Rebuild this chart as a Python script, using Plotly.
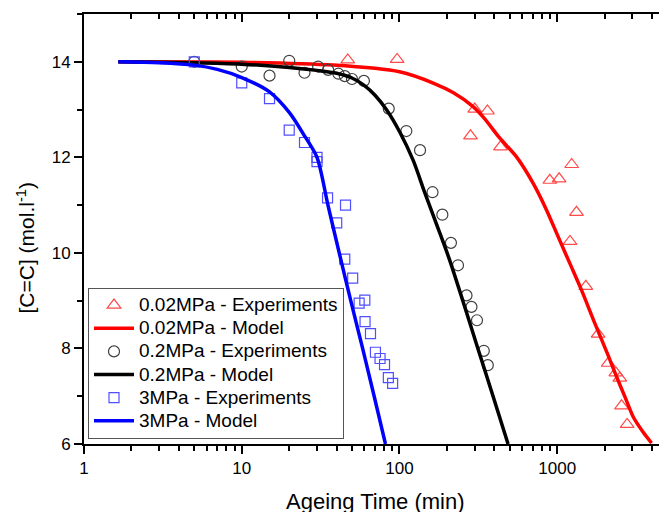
import plotly.graph_objects as go

# ---------------- data ----------------
# 0.02 MPa experiments (triangles)
t_002_exp = [47, 96.6, 282, 300, 361, 437, 898, 1028, 1205, 1235, 1325, 1518, 1816, 2103, 2353, 2494, 2557, 2775]
c_002_exp = [14.04, 14.05, 12.45, 13.01, 12.97, 12.22, 11.52, 11.55, 10.24, 11.85, 10.85, 9.3, 8.30, 7.69, 7.49, 7.38, 6.80, 6.41]
# 0.02 MPa model
t_002_mod = [1.65, 10, 38, 100, 165, 220, 293, 344, 433, 552, 703, 855, 1013, 1202, 1426, 1730, 2100, 2377, 2700, 3030, 3500, 3963]
c_002_mod = [14.0, 13.99, 13.93, 13.79, 13.55, 13.35, 13.06, 12.82, 12.4, 12.01, 11.46, 10.9, 10.34, 9.78, 9.22, 8.53, 7.86, 7.41, 6.97, 6.57, 6.25, 6.02]

# 0.2 MPa experiments (circles)
t_02_exp = [5, 10, 15, 20, 25, 30.5, 35.3, 41, 45, 50, 59.5, 85.5, 110.5, 135, 162, 187, 212, 235, 266, 286, 310, 342.5, 363]
c_02_exp = [14.0, 13.9, 13.71, 14.02, 13.77, 13.9, 13.83, 13.75, 13.7, 13.64, 13.6, 13.02, 12.55, 12.15, 11.27, 10.8, 10.21, 9.74, 9.11, 8.87, 8.59, 7.95, 7.65]
# 0.2 MPa model
t_02_mod = [1.65, 5, 10, 20, 30, 40, 50, 60, 70, 83, 100, 122, 145, 174, 208, 252, 314, 392, 488]
c_02_mod = [14.0, 13.98, 13.95, 13.88, 13.82, 13.76, 13.66, 13.5, 13.3, 12.99, 12.54, 11.94, 11.25, 10.55, 9.85, 9.0, 8.0, 7.0, 6.0]

# 3 MPa experiments (squares)
t_3_exp = [5, 10, 15, 20, 25, 30, 30, 35, 40, 45.5, 45, 50.5, 55.5, 60.3, 60.5, 65.5, 70.4, 75.3, 80.4, 85, 90.5]
c_3_exp = [14.0, 13.56, 13.23, 12.57, 12.31, 12.0, 11.91, 11.15, 10.63, 11.0, 9.87, 9.47, 8.95, 9.01, 8.56, 8.31, 7.92, 7.79, 7.66, 7.39, 7.27]
# 3 MPa model
t_3_mod = [1.65, 3, 5, 7, 10, 15, 20, 25, 30, 35.2, 41.5, 49.1, 58.4, 69.1, 81.5]
c_3_mod = [14.0, 13.98, 13.93, 13.84, 13.67, 13.37, 12.94, 12.45, 12.0, 11.0, 10.0, 9.0, 8.0, 7.0, 6.0]

x_tick_vals = [1, 10, 100, 1000]
x_tick_text = ["1", "10", "100", "1000"]
y_tick_vals = [6, 8, 10, 12, 14]

legend_names = ["0.02MPa - Experiments", "0.02MPa - Model",
                "0.2MPa - Experiments", "0.2MPa - Model",
                "3MPa - Experiments", "3MPa - Model"]

# ---------------- figure ----------------
FONT = "Arial, Liberation Sans, sans-serif"
OFF = 8                      # page body margin of the viewer
W, H = 667 - OFF, 512 - OFF
L, R, T, B = 84 - OFF, 0, 14 - OFF, 512 - 444
XR = [0, 3.696]
YR = [6, 15]
pw, ph = W - L - R, H - T - B


def px_x(p):   # screenshot pixel -> paper x
    return (p - OFF - L) / pw


def px_y(p):   # screenshot pixel -> paper y
    return (H - B - (p - OFF)) / ph


def lg(name):
    return '<span style="font-size:19px">' + name + '</span>'


fig = go.Figure()

fig.add_trace(go.Scatter(x=t_002_exp, y=c_002_exp, mode="markers", name=lg(legend_names[0]),
                         marker=dict(symbol="triangle-up-open", size=12, color="#ff4a4a", line=dict(width=1.2))))
fig.add_trace(go.Scatter(x=t_002_mod, y=c_002_mod, mode="lines", name=lg(legend_names[1]),
                         line=dict(color="#ff0000", width=3.5, shape="spline", smoothing=0.8)))
fig.add_trace(go.Scatter(x=t_02_exp, y=c_02_exp, mode="markers", name=lg(legend_names[2]),
                         marker=dict(symbol="circle-open", size=11, color="#404040", line=dict(width=1.2))))
fig.add_trace(go.Scatter(x=t_02_mod, y=c_02_mod, mode="lines", name=lg(legend_names[3]),
                         line=dict(color="#000000", width=3.5, shape="spline", smoothing=0.8)))
fig.add_trace(go.Scatter(x=t_3_exp, y=c_3_exp, mode="markers", name=lg(legend_names[4]),
                         marker=dict(symbol="square-open", size=10, color="#4f4fff", line=dict(width=1.2))))
fig.add_trace(go.Scatter(x=t_3_mod, y=c_3_mod, mode="lines", name=lg(legend_names[5]),
                         line=dict(color="#0000ff", width=3.5, shape="spline", smoothing=0.8)))

# invisible helpers so the mirrored (top / right) axes are drawn
fig.add_trace(go.Scatter(x=[10], y=[10], xaxis="x2", yaxis="y", mode="markers",
                         marker=dict(opacity=0), showlegend=False, hoverinfo="skip"))
fig.add_trace(go.Scatter(x=[10], y=[10], xaxis="x", yaxis="y2", mode="markers",
                         marker=dict(opacity=0), showlegend=False, hoverinfo="skip"))

tickfont = dict(family=FONT, size=17, color="black")

fig.update_layout(
    width=W, height=H,
    margin=dict(l=L, r=R, t=T, b=B, pad=0, autoexpand=False),
    paper_bgcolor="white", plot_bgcolor="white",
    font=dict(family=FONT, color="black"),
    showlegend=True,
    legend=dict(x=px_x(88), y=px_y(287.5), xanchor="left", yanchor="top",
                bordercolor="#555555", borderwidth=1, bgcolor="white",
                font=dict(family=FONT, size=15.5, color="black"),
                itemwidth=40, tracegroupgap=0),
    xaxis=dict(type="log", range=XR, showgrid=False, zeroline=False,
               showline=True, linecolor="black", linewidth=2,
               ticks="outside", ticklen=8, tickwidth=1.5, tickcolor="black",
               tickvals=x_tick_vals, ticktext=x_tick_text, tickfont=tickfont,
               minor=dict(ticks="outside", ticklen=5, tickwidth=1.5, tickcolor="black", dtick="D1", showgrid=False)),
    xaxis2=dict(type="log", range=XR, overlaying="x", side="top", anchor="y", showgrid=False, zeroline=False,
                showline=True, linecolor="black", linewidth=2,
                ticks="inside", ticklen=8, tickwidth=1.5, tickcolor="black", dtick=1,
                showticklabels=False,
                minor=dict(ticks="inside", ticklen=5, tickwidth=1.5, tickcolor="black", dtick="D1", showgrid=False)),
    yaxis=dict(range=YR, showgrid=False, zeroline=False,
               showline=True, linecolor="black", linewidth=2,
               ticks="outside", ticklen=8, tickwidth=1.5, tickcolor="black",
               tickvals=y_tick_vals, tickfont=tickfont,
               minor=dict(ticks="outside", ticklen=5, tickwidth=1.5, tickcolor="black", dtick=1, showgrid=False)),
    yaxis2=dict(range=YR, overlaying="y", side="right", anchor="x", showgrid=False, zeroline=False,
                showline=False,
                ticks="inside", ticklen=8, tickwidth=1.5, tickcolor="black", dtick=2, tick0=6,
                showticklabels=False,
                minor=dict(ticks="inside", ticklen=5, tickwidth=1.5, tickcolor="black", dtick=1, showgrid=False)),
)

fig.add_annotation(text="Ageing Time (min)", xref="paper", yref="paper",
                   x=px_x(375.8), y=px_y(502), xanchor="center", yanchor="middle",
                   showarrow=False, font=dict(family=FONT, size=22, color="black"))
fig.add_annotation(text="[C=C] (mol.l<sup>-1</sup>)", xref="paper", yref="paper",
                   x=px_x(25), y=px_y(247.5), xanchor="center", yanchor="middle",
                   textangle=-90, showarrow=False, font=dict(family=FONT, size=21, color="black"))

fig.write_html("out.html")
